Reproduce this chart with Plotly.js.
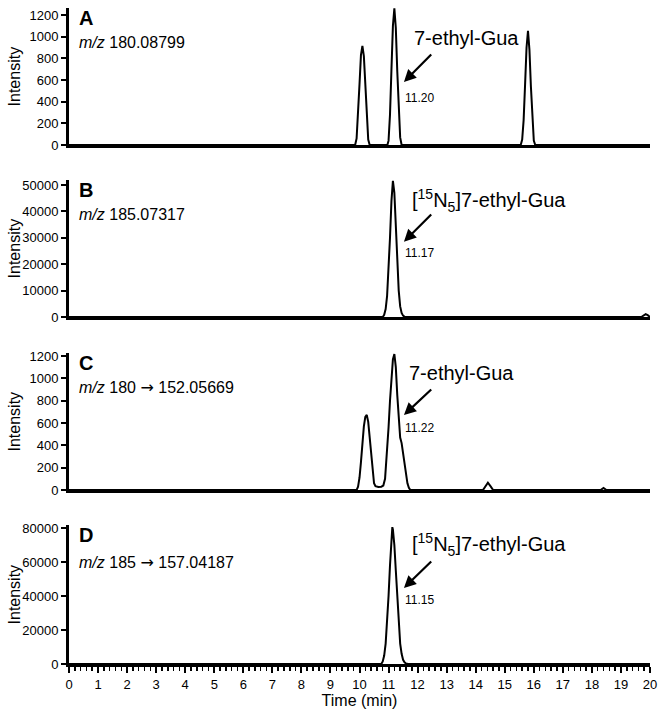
<!DOCTYPE html>
<html>
<head>
<meta charset="utf-8">
<script src="https://cdn.plot.ly/plotly-3.0.1.min.js"></script>
<style>
  html, body { margin: 0; padding: 0; background: #fff; }
  #chart { width: 665px; height: 711px; }
</style>
</head>
<body>
<div id="chart"></div>
<script>
// panel A: m/z 180.08799
var timeA = [0, 9.85, 9.9, 9.95, 10.0, 10.05, 10.1, 10.15, 10.2, 10.25, 10.3, 10.35,
             10.96, 11.0, 11.05, 11.1, 11.15, 11.2, 11.25, 11.3, 11.35, 11.4, 11.45,
             15.55, 15.6, 15.65, 15.7, 15.75, 15.8, 15.85, 15.9, 15.95, 16.0, 16.05, 20];
var intA = [0, 0, 60, 260, 560, 830, 915, 820, 540, 240, 50, 0,
            0, 40, 280, 700, 1100, 1262, 1080, 680, 300, 70, 0,
            0, 50, 230, 560, 900, 1055, 880, 540, 220, 40, 0, 0];

// panel B: m/z 185.07317
var timeB = [0, 10.8, 10.85, 10.9, 10.95, 11.0, 11.05, 11.1, 11.15, 11.2, 11.25, 11.3,
             11.35, 11.4, 11.45, 11.5, 11.57, 19.7, 19.78, 19.85, 19.92, 19.98, 20];
var intB = [0, 0, 800, 3000, 8000, 17000, 30000, 44000, 51600, 47000, 35000, 21000,
            10000, 4000, 1500, 500, 0, 0, 700, 1100, 700, 0, 0];

// panel C: m/z 180 -> 152.05669
var timeC = [0, 9.9, 9.95, 10.0, 10.05, 10.1, 10.15, 10.2, 10.25, 10.3, 10.35, 10.4,
             10.45, 10.5, 10.55, 10.65, 10.75, 10.82, 10.88, 10.95, 11.0, 11.05, 11.1,
             11.15, 11.2, 11.25, 11.3, 11.35, 11.4, 11.45, 11.5, 11.55, 11.6, 11.65,
             11.7, 11.75, 14.25, 14.32, 14.42, 14.52, 14.6, 18.3, 18.4, 18.5, 20];
var intC = [0, 0, 30, 110, 250, 420, 570, 655, 672, 610, 470, 300,
            150, 60, 35, 28, 30, 40, 100, 330, 560, 800, 1020,
            1170, 1218, 1100, 850, 600, 470, 420, 330, 230, 140, 60,
            20, 0, 0, 30, 65, 30, 0, 0, 18, 0, 0];

// panel D: m/z 185 -> 157.04187
var timeD = [0, 10.75, 10.8, 10.85, 10.9, 10.95, 11.0, 11.05, 11.1, 11.13, 11.15, 11.2,
             11.25, 11.3, 11.35, 11.4, 11.45, 11.5, 11.55, 11.6, 11.67, 20];
var intD = [0, 0, 1500, 5000, 12000, 24000, 40000, 58000, 74000, 80500, 79000, 70000,
            55000, 38000, 23000, 12000, 6000, 2500, 1000, 300, 0, 0];

var arrowGlyph = '<span style="font-family:DejaVu Sans">\u2192</span>';
var panelLabels = ['A', 'B', 'C', 'D'];
var mzLabels = ['<i>m/z</i> 180.08799', '<i>m/z</i> 185.07317',
                '<i>m/z</i> 180 ' + arrowGlyph + ' 152.05669', '<i>m/z</i> 185 ' + arrowGlyph + ' 157.04187'];
var peakNames = ['7-ethyl-Gua', '[<sup>15</sup>N<sub>5</sub>]7-ethyl-Gua',
                 '7-ethyl-Gua', '[<sup>15</sup>N<sub>5</sub>]7-ethyl-Gua'];
var retTimes = ['11.20', '11.17', '11.22', '11.15'];

var yTops = [1265, 51900, 1227, 81765];
var yDtick = [200, 10000, 200, 20000];
var domains = [[0.7912, 1.0], [0.529, 0.7378], [0.2652, 0.4741], [0, 0.2119]];

var font = 'Liberation Sans, Arial, sans-serif';
var times = [timeA, timeB, timeC, timeD];
var ints = [intA, intB, intC, intD];

var data = [];
var layout = {
  width: 665,
  height: 711,
  margin: {l: 69, r: 15, t: 8, b: 47},
  showlegend: false,
  paper_bgcolor: '#fff',
  plot_bgcolor: '#fff',
  font: {family: font, color: '#000'},
  annotations: []
};

for (var i = 0; i < 4; i++) {
  var n = i === 0 ? '' : String(i + 1);
  data.push({
    x: times[i], y: ints[i],
    xaxis: 'x' + n, yaxis: 'y' + n,
    type: 'scatter', mode: 'lines',
    line: {color: '#000', width: 2},
    hoverinfo: 'none'
  });

  var last = i === 3;
  layout['xaxis' + n] = {
    anchor: 'y' + n,
    range: [0, 20],
    showgrid: false, zeroline: false,
    showline: true, linewidth: 3, linecolor: '#000',
    ticks: last ? 'outside' : '',
    tickmode: 'linear', tick0: 0, dtick: 1,
    ticklen: 6, tickwidth: 2, tickcolor: '#000',
    showticklabels: last,
    tickfont: {size: 13, family: font, color: '#000'}
  };
  if (last) {
    layout['xaxis' + n].minor = {ticks: 'outside', dtick: 0.2, tick0: 0, ticklen: 4, tickwidth: 1.5, tickcolor: '#000'};
    layout['xaxis' + n].title = {text: 'Time (min)', font: {size: 16, family: font}, standoff: 4};
  }
  if (i > 0) layout['xaxis' + n].matches = 'x';

  layout['yaxis' + n] = {
    domain: domains[i],
    anchor: 'x' + n,
    range: [0, yTops[i]],
    showgrid: false, zeroline: false,
    showline: true, linewidth: 3, linecolor: '#000',
    ticks: 'outside', ticklen: 5, tickwidth: 2, tickcolor: '#000',
    tickmode: 'linear', tick0: 0, dtick: yDtick[i],
    tickformat: 'd',
    tickfont: {size: 13, family: font, color: '#000'}
  };

  var xr = 'x' + n, yr = 'y' + n;
  var yMax = yTops[i];
  // positions given as fractions of each panel's height
  layout.annotations.push(
    {xref: xr, yref: yr, x: 0.27, y: yMax * 0.925, text: '<b>' + panelLabels[i] + '</b>',
     showarrow: false, xanchor: 'left', yanchor: 'middle', font: {size: 20, family: font}},
    {xref: xr, yref: yr, x: 0.27, y: yMax * (i === 3 ? 0.73 : 0.75), text: mzLabels[i],
     showarrow: false, xanchor: 'left', yanchor: 'middle', font: {size: 16, family: font}},
    {xref: 'paper', yref: 'paper', x: -0.093, y: (domains[i][0] + domains[i][1]) / 2,
     text: 'Intensity', textangle: -90, showarrow: false,
     xanchor: 'center', yanchor: 'middle', font: {size: 16, family: font}}
  );
}

// arrows and peak labels (data coords)
var nameX = [13.67, 11.74, 13.52, 11.74];
var nameAnchor = ['center', 'left', 'center', 'left'];
var nameY = [988, 44318, 1048, 70000];
var headY = [582, 28523, 672, 44706];
var tailY = [849, 39394, 913, 61176];
var rtY = [434, 24242, 555, 37647];

for (var k = 0; k < 4; k++) {
  var s = k === 0 ? '' : String(k + 1);
  layout.annotations.push(
    {xref: 'x' + s, yref: 'y' + s, x: nameX[k], y: nameY[k], text: peakNames[k],
     showarrow: false, xanchor: nameAnchor[k], yanchor: 'middle', font: {size: 20, family: font}},
    {xref: 'x' + s, yref: 'y' + s, x: 11.53, y: headY[k], text: '',
     showarrow: true, axref: 'x' + s, ayref: 'y' + s, ax: 12.52, ay: tailY[k],
     arrowhead: 2, arrowsize: 1.1, arrowwidth: 2.2, arrowcolor: '#000', standoff: 0, startstandoff: 0},
    {xref: 'x' + s, yref: 'y' + s, x: 11.5, y: rtY[k], text: retTimes[k],
     showarrow: false, xanchor: 'left', yanchor: 'middle', font: {size: 12, family: font}}
  );
}

Plotly.newPlot('chart', data, layout, {staticPlot: true});
</script>
</body>
</html>
